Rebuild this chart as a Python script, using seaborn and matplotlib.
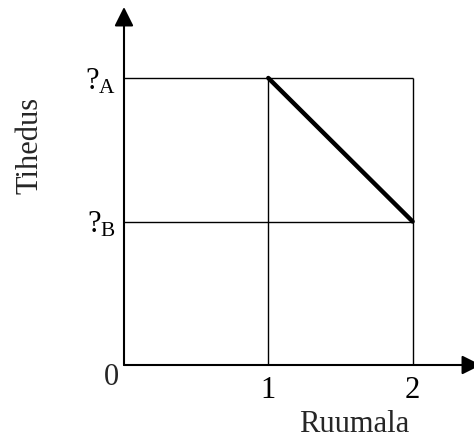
import pandas as pd
import matplotlib
matplotlib.use("Agg")
import matplotlib.pyplot as plt
import seaborn as sns

# andmed: ruumala ja tihedus
ruumala = [1, 2]
tihedus = [2, 1]
grid_x = [1, 2]
grid_y = [1, 2]
x_ticks = [1, 2]
x_tick_labels = ["1", "2"]
y_ticks = [2, 1]
y_tick_labels = [r"?$_{\mathrm{A}}$", r"?$_{\mathrm{B}}$"]

sns.set_style("white")
plt.rcParams['font.family'] = ['Liberation Serif', 'DejaVu Serif']
plt.rcParams['mathtext.fontset'] = 'custom'
plt.rcParams['mathtext.rm'] = 'Liberation Serif'
plt.rcParams['mathtext.it'] = 'Liberation Serif:italic'

df = pd.DataFrame({"Ruumala": ruumala, "Tihedus": tihedus})

fig = plt.figure(figsize=(4.74, 4.43), dpi=100)
ax = fig.add_axes([124 / 474, 78 / 443, 357 / 474, 358 / 443])

xmax = 357 / 144.3
ymax = 358 / 143.5
ax.set_xlim(0, xmax)
ax.set_ylim(0, ymax)

# ruudustik
ax.hlines(grid_y, 0, 2, color="black", lw=1.0)
ax.vlines(grid_x, 0, 2, color="black", lw=1.0)

# paks joon
sns.lineplot(data=df, x="Ruumala", y="Tihedus", ax=ax, color="black", lw=3.2,
             solid_capstyle="round")

# teljed noolega
for s in ax.spines.values():
    s.set_visible(False)
arrow = dict(arrowstyle="-|>,head_length=0.58,head_width=0.29", color="black",
             lw=1.5, shrinkA=0, shrinkB=0, mutation_scale=20)
ax.annotate("", xy=(xmax, 0), xytext=(0, 0), arrowprops=arrow, annotation_clip=False)
ax.annotate("", xy=(0, ymax), xytext=(0, 0), arrowprops=arrow, annotation_clip=False)

ax.set_xticks(x_ticks)
ax.set_xticklabels(x_tick_labels)
ax.set_yticks(y_ticks)
ax.set_yticklabels(y_tick_labels)
ax.tick_params(length=0, labelsize=22, colors="black")
ax.tick_params(axis="x", pad=8)
ax.tick_params(axis="y", pad=6)
ax.text(-0.09, -0.085, "0", fontsize=22, ha="center", va="center")

ax.set_xlabel("Ruumala", fontsize=22)
ax.set_ylabel("Tihedus", fontsize=22)
ax.xaxis.label.set(va="center", ha="center")
ax.xaxis.set_label_coords(0.644, -0.165)
ax.yaxis.label.set(va="center", ha="center", rotation_mode="default")
ax.yaxis.set_label_coords(-0.263, 0.612)

fig.savefig("out.png", dpi=100)
